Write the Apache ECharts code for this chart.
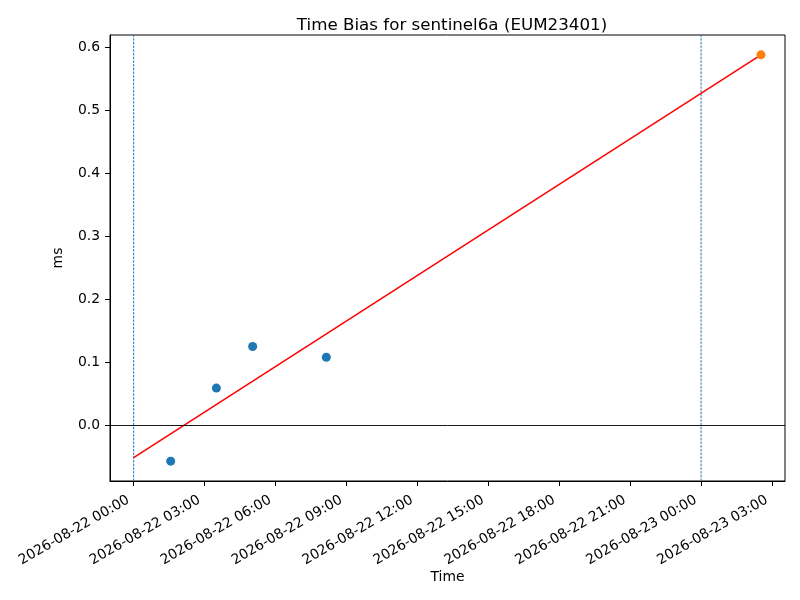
<!DOCTYPE html>
<html>
<head>
<meta charset="utf-8">
<script src="https://cdn.jsdelivr.net/npm/echarts@6/dist/echarts.min.js"></script>
<style>
  html, body { margin: 0; padding: 0; background: #fff; }
  #chart { width: 800px; height: 600px; }
</style>
</head>
<body>
<div id="chart"></div>
<script>
// measured values, times in UTC
var biasTimes = ['2026-08-22 01:34', '2026-08-22 03:30', '2026-08-22 05:02', '2026-08-22 08:09'];
var biasValues = [-0.057, 0.059, 0.125, 0.108];
var latestTime = '2026-08-23 02:32';
var latestValue = 0.588;
var fitTimes = ['2026-08-22 00:00', '2026-08-23 02:32'];
var fitValues = [-0.0515, 0.588];
var markTimes = ['2026-08-22 00:00', '2026-08-23 00:00'];
var tickHours = [0, 3, 6, 9, 12, 15, 18, 21, 24, 27];
var yTicks = [0, 0.1, 0.2, 0.3, 0.4, 0.5, 0.6];

// hours since 2026-08-22 00:00
function toHours(s) {
    var day = parseInt(s.substr(8, 2)),
        hh = parseInt(s.substr(11, 2)),
        mm = parseInt(s.substr(14, 2));
    return (day - 22) * 24 + hh + mm / 60;
}
function pad(n) { return (n < 10 ? '0' : '') + n; }
function hourLabel(h) {
    var day = 22 + Math.floor(h / 24);
    var hh = Math.round(h - (day - 22) * 24);
    return '2026-08-' + day + ' ' + pad(hh) + ':00';
}

var font = 'DejaVu Sans';
var yMin = -0.0885, yMax = 0.6195;
var myChart = echarts.init(document.getElementById('chart'));

// vertical day markers as thin dashed line series
var markSeries = markTimes.map(function (t) {
    return {
        type: 'line',
        data: [[toHours(t), yMin], [toHours(t), yMax]],
        showSymbol: false,
        silent: true,
        lineStyle: { color: '#1f77b4', type: [2.5, 1.2], width: 1 },
        z: 1
    };
});

var option = {
    backgroundColor: '#fff',
    animation: false,
    title: {
        text: 'Time Bias for sentinel6a (EUM23401)',
        left: 447, top: 12, textAlign: 'center',
        textStyle: { fontFamily: font, fontSize: 16.7, fontWeight: 'normal', color: '#000' }
    },
    grid: { left: 110, right: 15, top: 35, bottom: 119 },
    xAxis: {
        type: 'value',
        min: -1.0, max: 27.55,
        name: 'Time', nameLocation: 'middle', nameGap: 89, nameMoveOverlap: false,
        nameTextStyle: { fontFamily: font, fontSize: 13.9, color: '#000' },
        axisLine: { show: true, onZero: false, lineStyle: { color: '#000', width: 1 } },
        axisTick: { show: true, customValues: tickHours, length: 5, lineStyle: { color: '#000' } },
        axisLabel: {
            customValues: tickHours, rotate: 30, margin: 15, padding: [0, 6, 0, 0],
            fontFamily: font, fontSize: 13.9, color: '#000',
            formatter: function (v) { return hourLabel(v); }
        },
        splitLine: { show: false }
    },
    yAxis: {
        type: 'value',
        min: yMin, max: yMax,
        name: 'ms', nameLocation: 'middle', nameGap: 45,
        nameTextStyle: { fontFamily: font, fontSize: 13.9, color: '#000' },
        axisLine: { show: true, onZero: false, lineStyle: { color: '#000', width: 1 } },
        axisTick: { show: true, customValues: yTicks, length: 5, lineStyle: { color: '#000' } },
        axisLabel: {
            customValues: yTicks, margin: 10,
            fontFamily: font, fontSize: 13.9, color: '#000',
            formatter: function (v) { return v.toFixed(1); }
        },
        splitLine: { show: false }
    },
    series: markSeries.concat([
        {
            name: 'fit',
            type: 'line',
            data: fitTimes.map(function (t, i) { return [toHours(t), fitValues[i]]; }),
            showSymbol: false,
            lineStyle: { color: '#ff0000', width: 1.5 },
            markLine: {
                silent: true,
                symbol: 'none',
                label: { show: false },
                lineStyle: { color: '#000', type: 'solid', width: 0.9 },
                data: [{ yAxis: 0 }]
            },
            z: 2
        },
        {
            name: 'bias',
            type: 'scatter',
            data: biasTimes.map(function (t, i) { return [toHours(t), biasValues[i]]; }),
            symbolSize: 9,
            itemStyle: { color: '#1f77b4', opacity: 1 },
            z: 3
        },
        {
            name: 'latest',
            type: 'scatter',
            data: [[toHours(latestTime), latestValue]],
            symbolSize: 9,
            itemStyle: { color: '#ff7f0e', opacity: 1 },
            z: 3
        }
    ])
};
myChart.setOption(option);

// box frame like matplotlib spines
myChart.setOption({
    graphic: [{
        type: 'rect',
        shape: { x: 110, y: 35, width: 675, height: 446 },
        style: { fill: 'none', stroke: '#000', lineWidth: 1 },
        silent: true
    }]
});
</script>
</body>
</html>
